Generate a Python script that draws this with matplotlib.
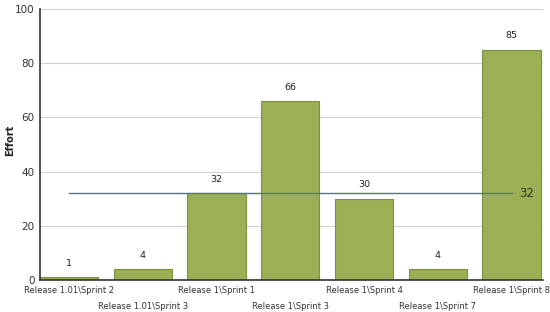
import matplotlib
matplotlib.use("Agg")
import matplotlib.pyplot as plt

sprints = ["Release 1.01\\Sprint 2", "Release 1.01\\Sprint 3", "Release 1\\Sprint 1",
           "Release 1\\Sprint 3", "Release 1\\Sprint 4", "Release 1\\Sprint 7",
           "Release 1\\Sprint 8"]
effort = [1, 4, 32, 66, 30, 4, 85]
average = 32

plt.rcParams['font.family'] = ['Verdana', 'DejaVu Sans']

fig = plt.figure(figsize=(5.5, 3.12), dpi=100)
ax = fig.add_axes([0.0727, 0.1026, 0.915, 0.868])

xs = list(range(len(sprints)))
ax.bar(xs, effort, width=0.79, color="#9bb054", edgecolor="#7d9140", linewidth=0.8, zorder=2)
for x, v in zip(xs, effort):
    ax.text(x, v + 3.5, str(v), ha="center", va="bottom", fontsize=6.8, color="#222222")

ax.plot([xs[0], xs[-1]], [average, average], color="#5a7283", linewidth=1, zorder=3)
ax.text(xs[-1] + 0.1, average, str(average), ha="left", va="center", fontsize=8.5, color="#333333")

ax.set_xlim(-0.395, 6.43)
ax.set_ylim(0, 100)
ax.set_yticks(range(0, 101, 20))
ax.yaxis.grid(True, color="#d5d0d0", linewidth=0.8, zorder=0)
ax.tick_params(axis="y", length=0, labelsize=7.5, labelcolor="#333333", pad=4)
ax.set_xticks(xs)
ax.set_xticklabels([])
ax.tick_params(axis="x", length=0)
for x, name in zip(xs, sprints):
    off = -0.022 if x % 2 == 0 else -0.08
    ax.text(x, off, name, transform=ax.get_xaxis_transform(), ha="center", va="top",
            fontsize=6, color="#333333")

for s in ["top", "right"]:
    ax.spines[s].set_visible(False)
ax.spines["left"].set_color("#333333")
ax.spines["bottom"].set_color("#333333")
ax.spines["left"].set_linewidth(1.2)
ax.spines["bottom"].set_linewidth(1.2)

fig.text(0.018, 0.55, "Effort", rotation=90, ha="center", va="center",
         fontsize=7, fontweight="bold", color="#222222")

fig.savefig("out.png", dpi=100)
